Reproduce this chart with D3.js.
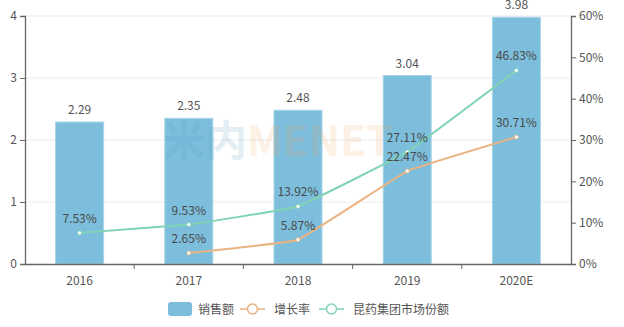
<!DOCTYPE html>
<html><head><meta charset="utf-8">
<script src="https://cdn.jsdelivr.net/npm/d3@7"></script>
<style>body{margin:0;background:#fff}svg{display:block;font-family:"Microsoft YaHei","Noto Sans CJK SC","Noto Sans",sans-serif}</style>
</head><body><svg id="c" width="624" height="327"></svg>
<script>
const categories = ["2016","2017","2018","2019","2020E"];
const sales = [2.29, 2.35, 2.48, 3.04, 3.98];
const growth = [null, 2.65, 5.87, 22.47, 30.71];
const share = [7.53, 9.53, 13.92, 27.11, 46.83];
const leftTicks = [0,1,2,3,4];
const rightTicks = [0,10,20,30,40,50,60];
const legendNames = ["销售额","增长率","昆药集团市场份额"];

const svg = d3.select("#c");
const L = 25, R = 571, T = 16, B = 264;
const x = d3.scaleBand().domain(categories).range([L, R]);
const yL = d3.scaleLinear().domain([0,4]).range([B, T]);
const yR = d3.scaleLinear().domain([0,60]).range([B, T]);
const textCol = "#555", axisCol = "#666";
const barCol = "#7cbedb", growCol = "#eab382", shareCol = "#80d4b4";

// grid
svg.append("g").selectAll("line").data(leftTicks.slice(1)).join("line")
  .attr("x1", L).attr("x2", R).attr("y1", d=>yL(d)).attr("y2", d=>yL(d))
  .attr("stroke", "#ececec").attr("stroke-width", 1);

// bars
const bw = 48;
svg.append("g").selectAll("rect").data(sales).join("rect")
  .attr("x", (d,i)=>x(categories[i]) + x.bandwidth()/2 - bw/2)
  .attr("y", d=>yL(d)).attr("width", bw).attr("height", d=>B - yL(d))
  .attr("fill", barCol).attr("stroke", "#a9d5e9").attr("stroke-width", 1);

svg.append("g").selectAll("text").data(sales).join("text")
  .attr("x", (d,i)=>x(categories[i]) + x.bandwidth()/2)
  .attr("y", d=>yL(d) - 8).attr("text-anchor", "middle")
  .attr("font-size", 12).attr("fill", textCol).text(d=>d.toFixed(2));

// watermark
const wm = svg.append("text").attr("x", 163).attr("y", 156).attr("font-size", 42)
  .attr("font-weight", "bold").attr("opacity", 0.16);
wm.append("tspan").attr("fill", "#5a9cc4").text("米内");
wm.append("tspan").attr("fill", "#f4a460").text("MENET");

// axes
const axL = svg.append("g").attr("transform", `translate(${L},0)`)
  .call(d3.axisLeft(yL).tickValues(leftTicks).tickSize(5).tickPadding(3).tickFormat(d3.format("d")));
const axR = svg.append("g").attr("transform", `translate(${R},0)`)
  .call(d3.axisRight(yR).tickValues(rightTicks).tickSize(5).tickPadding(3).tickFormat(d=>d+"%"));
const axB = svg.append("g").attr("transform", `translate(0,${B})`)
  .call(d3.axisBottom(x).tickSize(0).tickPadding(12));
[axL, axR, axB].forEach(a=>{
  a.select(".domain").attr("stroke", axisCol).attr("stroke-width", 1.3);
  a.selectAll(".tick line").attr("stroke", axisCol);
  a.selectAll("text").attr("fill", textCol).attr("font-size", 12)
   .attr("font-family", "'Microsoft YaHei','Noto Sans CJK SC','Noto Sans',sans-serif");
});
axB.select(".domain").attr("d", `M${L},0.5H${R}`);
axB.append("g").selectAll("line").data(categories.slice(1)).join("line")
  .attr("x1", d=>x(d)).attr("x2", d=>x(d)).attr("y1", 0).attr("y2", 5)
  .attr("stroke", axisCol);

// lines
const cx = i => x(categories[i]) + x.bandwidth()/2;
function series(vals, col){
  const pts = vals.map((v,i)=>({i,v})).filter(p=>p.v!=null);
  const line = d3.line().x(p=>cx(p.i)).y(p=>yR(p.v)).curve(d3.curveCardinal.tension(0.8));
  svg.append("path").datum(pts).attr("d", line).attr("fill","none")
    .attr("stroke", col).attr("stroke-width", 2);
  svg.append("g").selectAll("circle").data(pts).join("circle")
    .attr("cx", p=>cx(p.i)).attr("cy", p=>yR(p.v)).attr("r", 2)
    .attr("fill", "#fff").attr("stroke", col).attr("stroke-width", 0.8);
  svg.append("g").selectAll("text").data(pts).join("text")
    .attr("x", p=>cx(p.i)).attr("y", p=>yR(p.v) - 10).attr("text-anchor","middle")
    .attr("font-size", 12).attr("fill", "#4a4a4a").text(p=>p.v.toFixed(2)+"%");
}
series(share, shareCol);
series(growth, growCol);

// legend
const lg = svg.append("g").attr("font-size", 12).attr("fill", textCol);
lg.append("rect").attr("x", 168).attr("y", 302).attr("width", 24).attr("height", 14).attr("rx", 3).attr("fill", barCol);
lg.append("text").attr("x", 198).attr("y", 313.5).attr("fill", textCol).text(legendNames[0]);
[[240, growCol, legendNames[1]], [319, shareCol, legendNames[2]]].forEach(([lx,col,name])=>{
  lg.append("line").attr("x1", lx).attr("x2", lx+25).attr("y1", 309).attr("y2", 309).attr("stroke", col).attr("stroke-width", 1.5);
  lg.append("circle").attr("cx", lx+12.5).attr("cy", 309).attr("r", 5).attr("fill", "#fff").attr("stroke", col).attr("stroke-width", 1.5);
  lg.append("text").attr("x", lx+34).attr("y", 313.5).attr("fill", textCol).text(name);
});
</script></body></html>
